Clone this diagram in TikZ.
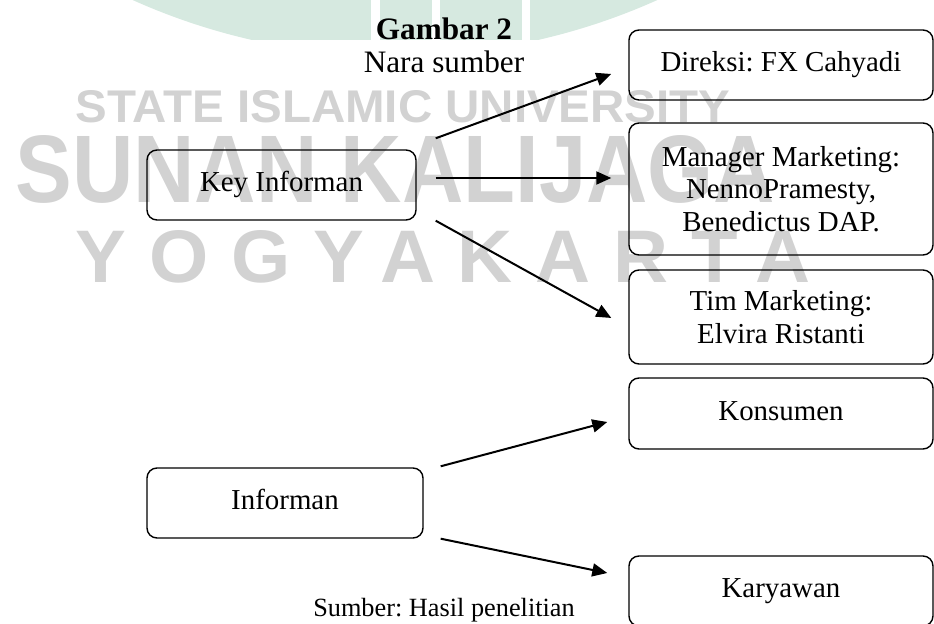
\documentclass[tikz,border=0pt]{standalone}
\usepackage{graphicx}
\usepackage{fontspec}
\setmainfont{Liberation Serif}
\newfontfamily\wmfont{Liberation Sans Bold}
\newfontfamily\wmwide[LetterSpace=30]{Liberation Sans Bold}
\usetikzlibrary{arrows.meta,calc}
\definecolor{wmgray}{RGB}{210,210,210}
\definecolor{wmgreen}{RGB}{214,233,224}
\frenchspacing

\begin{document}
\begin{tikzpicture}[x=0.5pt,y=-0.5pt,>={Triangle[length=7.5pt,width=6.5pt]},
  every node/.style={font=\fontsize{14.45}{16.2}\selectfont},
  box/.style={draw,rounded corners=5pt,line width=0.7pt,align=center,inner sep=0pt},
  oneline/.style={text height=9.8pt,text depth=3.2pt},
  wmtext/.style={text=wmgray,inner sep=0pt,anchor=north west},
  link/.style={->,line width=1pt}]
  \useasboundingbox (0,0) rectangle (934,624);
  \clip (0,0) rectangle (934,624);

  \begin{scope}
    \clip (0,0) rectangle (934,40);
    \fill[wmgreen] (395,-585) circle (641);
  \end{scope}
  \fill[white] (371,0) rectangle (380,40);
  \fill[white] (432,0) rectangle (440,40);
  \fill[white] (522,0) rectangle (530,40);

  \node[wmtext] (wm line1) at (75,90)
    {\resizebox{327.5pt}{16pt}{\wmfont STATE ISLAMIC UNIVERSITY}};
  \node[wmtext] (wm line2) at (15,135)
    {\resizebox{380pt}{33.5pt}{\wmfont SUNAN KALIJAGA}};
  \node[wmtext] (wm line3) at (75,230)
    {\resizebox{356pt}{26pt}{\wmwide YOGYAKARTA\kern-.3em}};

  \node[anchor=base,font=\fontsize{15.6}{17}\selectfont\bfseries] (title) at (444,40) {Gambar 2};
  \node[anchor=base,font=\fontsize{15.6}{17}\selectfont] (subtitle) at (444,73) {Nara sumber};

  \node[box,oneline,minimum width=134.5pt,minimum height=35pt] (key) at (281.5,185) {Key Informan};
  \node[box,oneline,minimum width=138pt,minimum height=35pt] (inf) at (285,503) {Informan};

  \node[box,oneline,minimum width=152pt,minimum height=35pt] (dir) at (781,65) {Direksi: FX Cahyadi};
  \node[box,minimum width=152pt,minimum height=66pt] (man) at (781,189)
    {Manager Marketing:\\NennoPramesty,\\Benedictus DAP.};
  \node[box,minimum width=152pt,minimum height=47pt] (tim) at (781,317)
    {Tim Marketing:\\Elvira Ristanti};
  \node[box,oneline,minimum width=152pt,minimum height=35.5pt] (kon) at (781,413.5) {Konsumen};
  \node[box,oneline,minimum width=152pt,minimum height=35pt] (kar) at (781,591) {Karyawan};

  \draw[link] ([shift={(19,-11)}]key.north east) -- ([shift={(-17,9)}]dir.west);
  \draw[link] ([shift={(19,-7)}]key.east) -- ([shift={(-17,-11)}]man.west);
  \draw[link] ([shift={(19,0)}]key.south east) -- ([shift={(-17,1)}]tim.west);
  \draw[link] ([shift={(17,-1)}]inf.north east) -- ([shift={(-21,8.5)}]kon.west);
  \draw[link] ([shift={(17,0)}]inf.south east) -- ([shift={(-21,-18)}]kar.west);

  \node[anchor=base,font=\fontsize{13.15}{15}\selectfont] (source) at (444,617) {Sumber: Hasil penelitian};
\end{tikzpicture}
\end{document}
